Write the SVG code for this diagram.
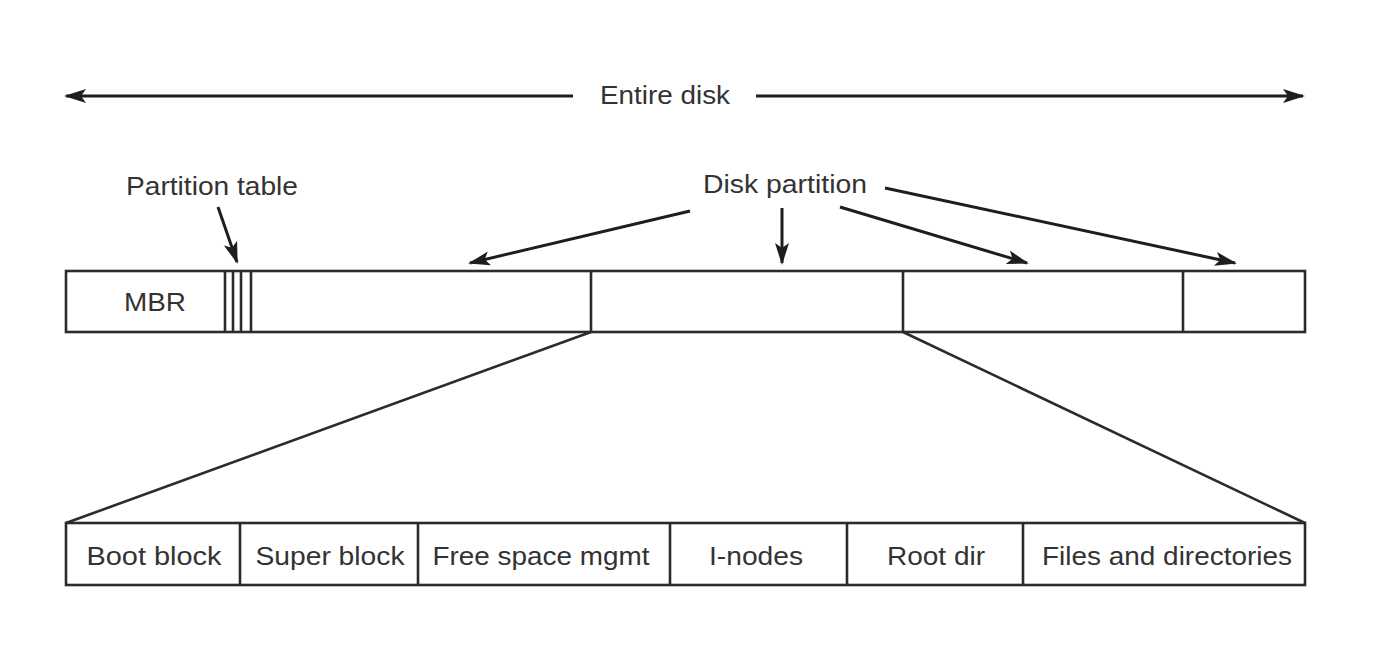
<svg xmlns="http://www.w3.org/2000/svg" width="1382" height="650" viewBox="0 0 1382 650">
<style>
.bx{fill:#fff;stroke:#2b2b2b;stroke-width:2.6}
.ln{stroke:#2b2b2b;stroke-width:2.6;fill:none}
.ar{stroke:#1e1e1e;stroke-width:3;fill:none;marker-end:url(#ah)}
.t{font-family:"Liberation Sans",Arial,sans-serif;font-size:26px;fill:#333;text-anchor:middle}
</style>
<defs>
<marker id="ah" markerUnits="userSpaceOnUse" markerWidth="22" markerHeight="16" refX="20" refY="8" orient="auto">
<path d="M0,1 L22,8 L0,15 L5,8 Z" fill="#1e1e1e"/>
</marker>
</defs>
<rect width="1382" height="650" fill="#fff"/>

<g id="entire-disk">
<text class="t" x="665" y="104" textLength="130" lengthAdjust="spacingAndGlyphs">Entire disk</text>
</g>

<g id="disk-bar">
<rect class="bx" x="66" y="271" width="1239" height="61"/>
<line class="ln" x1="225" y1="271" x2="225" y2="332"/>
<line class="ln" x1="233" y1="271" x2="233" y2="332"/>
<line class="ln" x1="241" y1="271" x2="241" y2="332"/>
<line class="ln" x1="251" y1="271" x2="251" y2="332"/>
<line class="ln" x1="591" y1="271" x2="591" y2="332"/>
<line class="ln" x1="903" y1="271" x2="903" y2="332"/>
<line class="ln" x1="1183" y1="271" x2="1183" y2="332"/>
</g>
<g id="mbr"><text class="t" x="155" y="311" textLength="62" lengthAdjust="spacingAndGlyphs">MBR</text></g>
<g id="partition-table-label"><text class="t" x="212" y="195" textLength="172" lengthAdjust="spacingAndGlyphs">Partition table</text></g>
<g id="disk-partition-label"><text class="t" x="785" y="193" textLength="164" lengthAdjust="spacingAndGlyphs">Disk partition</text></g>

<g id="partition-bar">
<rect class="bx" x="66" y="523" width="1239" height="62"/>
<line class="ln" x1="240" y1="523" x2="240" y2="585"/>
<line class="ln" x1="418" y1="523" x2="418" y2="585"/>
<line class="ln" x1="670" y1="523" x2="670" y2="585"/>
<line class="ln" x1="847" y1="523" x2="847" y2="585"/>
<line class="ln" x1="1023" y1="523" x2="1023" y2="585"/>
</g>
<g id="boot-block"><text class="t" x="154" y="565" textLength="135" lengthAdjust="spacingAndGlyphs">Boot block</text></g>
<g id="super-block"><text class="t" x="330" y="565" textLength="149" lengthAdjust="spacingAndGlyphs">Super block</text></g>
<g id="free-space"><text class="t" x="541" y="565" textLength="217" lengthAdjust="spacingAndGlyphs">Free space mgmt</text></g>
<g id="inodes"><text class="t" x="756" y="565" textLength="94" lengthAdjust="spacingAndGlyphs">I-nodes</text></g>
<g id="root-dir"><text class="t" x="936" y="565" textLength="98" lengthAdjust="spacingAndGlyphs">Root dir</text></g>
<g id="files-dirs"><text class="t" x="1167" y="565" textLength="250" lengthAdjust="spacingAndGlyphs">Files and directories</text></g>

<g id="connectors">
<line class="ar" x1="573" y1="96" x2="66" y2="96"/>
<line class="ar" x1="756" y1="96" x2="1303" y2="96"/>
<line class="ar" x1="218" y1="207" x2="237" y2="262"/>
<line class="ar" x1="690" y1="211" x2="470" y2="263"/>
<line class="ar" x1="782" y1="208" x2="782" y2="263"/>
<line class="ar" x1="840" y1="207" x2="1027" y2="263"/>
<line class="ar" x1="885" y1="188" x2="1235" y2="263"/>
<line class="ln" x1="591" y1="332" x2="66" y2="523"/>
<line class="ln" x1="903" y1="332" x2="1305" y2="523"/>
</g>
</svg>
